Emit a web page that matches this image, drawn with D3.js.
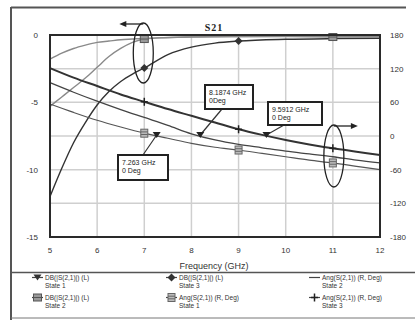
<!DOCTYPE html>
<html><head><meta charset="utf-8">
<script src="https://cdn.jsdelivr.net/npm/d3@7"></script>
<style>
body{margin:0;background:#fff;}
svg{display:block;font-family:"Liberation Sans",Arial,sans-serif;}
</style></head>
<body><svg id="c" width="415" height="320"></svg>
<script>
// ---- data ----
const xTicks = [5,6,7,8,9,10,11,12];
const yLeftTicks = [0,-5,-10,-15];
const yRightTicks = [180,120,60,0,-60,-120,-180];

const dbFreq = [5,5.25,5.5,5.75,6,6.25,6.5,6.75,7,7.5,8,8.5,9,10,11,12];
const dbState1 = [-1.8,-1.35,-1.0,-0.75,-0.55,-0.45,-0.35,-0.3,-0.25,-0.2,-0.15,-0.13,-0.12,-0.1,-0.1,-0.1];
const dbState2 = [-5.3,-4.6,-3.9,-3.2,-2.4,-1.6,-1.0,-0.55,-0.3,-0.18,-0.14,-0.12,-0.12,-0.12,-0.15,-0.15];
const dbState3 = [-12.0,-9.9,-8.0,-6.5,-5.2,-4.2,-3.45,-2.9,-2.45,-1.45,-0.9,-0.6,-0.45,-0.32,-0.27,-0.25];

const angFreq = [5,5.5,6,6.5,7,7.5,8,8.5,9,9.5,10,10.5,11,11.5,12];
const angState1 = [57,42,28,16,5,-4,-13,-20,-25,-31,-37,-43,-48,-54,-60];
const angState2 = [95,78,62,47,33,19,4,-7,-15,-21,-27,-32,-37,-43,-48];
const angState3 = [121,104,89,74,61,48,36,24,12,2,-7,-15,-22,-28,-34];

const markerFreqDB2 = [7,11];
const markerFreqDB3 = [7,9];
const markerFreqAng1 = [7,9,11];
const markerFreqAng3 = [7,9,11];

const annotations = [
  {f:7.263, l1:"7.263 GHz", l2:"0 Deg"},
  {f:8.1874, l1:"8.1874 GHz", l2:"0Deg"},
  {f:9.5912, l1:"9.5912 GHz", l2:"0 Deg"}
];
const legendItems = [
  {t:"DB(|S(2,1)|) (L)", s:"State 1", m:"tri"},
  {t:"DB(|S(2,1)|) (L)", s:"State 3", m:"diamond"},
  {t:"Ang(S(2,1)) (R, Deg)", s:"State 2", m:"none"},
  {t:"DB(|S(2,1)|) (L)", s:"State 2", m:"sq"},
  {t:"Ang(S(2,1)) (R, Deg)", s:"State 1", m:"sqx"},
  {t:"Ang(S(2,1)) (R, Deg)", s:"State 3", m:"plus"}
];

// ---- layout ----
const svg = d3.select("#c");
const x = d3.scaleLinear().domain([5,12]).range([50,380]);
const yL = d3.scaleLinear().domain([-15,0]).range([237,35]);
const yR = d3.scaleLinear().domain([-180,180]).range([237,35]);

// outer frame
svg.append("line").attr("x1",11).attr("x2",406).attr("y1",7.5).attr("y2",7.5).attr("stroke","#555").attr("stroke-width",2);
svg.append("line").attr("x1",11).attr("x2",11).attr("y1",7).attr("y2",320).attr("stroke","#555").attr("stroke-width",2);
svg.append("line").attr("x1",11).attr("x2",415).attr("y1",272.5).attr("y2",272.5).attr("stroke","#555").attr("stroke-width",1.5);
svg.append("line").attr("x1",11).attr("x2",415).attr("y1",318).attr("y2",318).attr("stroke","#777").attr("stroke-width",1);

// grid
const grid = svg.append("g").attr("stroke","#cfcfcf").attr("stroke-width",1.5);
xTicks.slice(1,-1).forEach(v=>grid.append("line").attr("x1",x(v)).attr("x2",x(v)).attr("y1",35).attr("y2",237));
yRightTicks.slice(1,-1).forEach(v=>grid.append("line").attr("x1",50).attr("x2",380).attr("y1",yR(v)).attr("y2",yR(v)));

// axes labels
const tickFont = 8;
svg.append("g").selectAll("text").data(xTicks).join("text")
  .attr("x",d=>x(d)).attr("y",253).attr("text-anchor","middle").attr("font-size",tickFont).attr("fill","#333").text(d=>d);
svg.append("g").selectAll("text").data(yLeftTicks).join("text")
  .attr("x",38).attr("y",d=>yL(d)+3).attr("text-anchor","end").attr("font-size",tickFont).attr("fill","#333").text(d=>d);
svg.append("g").selectAll("text").data(yRightTicks).join("text")
  .attr("x",390).attr("y",d=>yR(d)+3).attr("text-anchor","start").attr("font-size",tickFont).attr("fill","#333").text(d=>d);
svg.append("text").attr("x",214).attr("y",269).attr("text-anchor","middle").attr("font-size",9).attr("fill","#333").text("Frequency (GHz)");
svg.append("text").attr("x",214).attr("y",31).attr("text-anchor","middle").attr("font-size",10).attr("font-weight","bold")
  .attr("font-family","Liberation Serif, Times New Roman, serif").attr("letter-spacing",1).attr("fill","#222").text("S21");

// curves
const lineL = (fr,vals)=>d3.line().curve(d3.curveMonotoneX).x((d,i)=>x(fr[i])).y(d=>yL(d))(vals);
const lineR = (fr,vals)=>d3.line().curve(d3.curveMonotoneX).x((d,i)=>x(fr[i])).y(d=>yR(d))(vals);
const plot = svg.append("g");
plot.append("path").attr("d",lineL(dbFreq,dbState1)).attr("fill","none").attr("stroke","#8a8a8a").attr("stroke-width",1.4);
plot.append("path").attr("d",lineL(dbFreq,dbState2)).attr("fill","none").attr("stroke","#8a8a8a").attr("stroke-width",1.4);
plot.append("path").attr("d",lineL(dbFreq,dbState3)).attr("fill","none").attr("stroke","#333").attr("stroke-width",1.4);
plot.append("path").attr("d",lineR(angFreq,angState1)).attr("fill","none").attr("stroke","#555").attr("stroke-width",1.2);
plot.append("path").attr("d",lineR(angFreq,angState2)).attr("fill","none").attr("stroke","#444").attr("stroke-width",1.3);
plot.append("path").attr("d",lineR(angFreq,angState3)).attr("fill","none").attr("stroke","#333").attr("stroke-width",2);

// interpolation helper for marker placement on curves (sampling existing data)
const at = (fr,vals,f)=>{ const i=fr.indexOf(f); return vals[i]; };

function marker(g,type,cx,cy){
  if(type==="sq"){
    g.append("rect").attr("x",cx-4).attr("y",cy-3.5).attr("width",8).attr("height",7).attr("fill","#999").attr("stroke","#555").attr("stroke-width",1);
    g.append("line").attr("x1",cx-4).attr("x2",cx+4).attr("y1",cy).attr("y2",cy).attr("stroke","#555");
  } else if(type==="sqx"){
    g.append("rect").attr("x",cx-3.5).attr("y",cy-4).attr("width",7).attr("height",8).attr("fill","#bbb").attr("stroke","#666").attr("stroke-width",1);
    g.append("line").attr("x1",cx-3.5).attr("x2",cx+3.5).attr("y1",cy-1.3).attr("y2",cy-1.3).attr("stroke","#666");
    g.append("line").attr("x1",cx-3.5).attr("x2",cx+3.5).attr("y1",cy+1.3).attr("y2",cy+1.3).attr("stroke","#666");
  } else if(type==="diamond"){
    g.append("path").attr("d",`M${cx},${cy-4}L${cx+4},${cy}L${cx},${cy+4}L${cx-4},${cy}Z`).attr("fill","#333");
  } else if(type==="plus"){
    g.append("line").attr("x1",cx-3.5).attr("x2",cx+3.5).attr("y1",cy).attr("y2",cy).attr("stroke","#222").attr("stroke-width",1.5);
    g.append("line").attr("x1",cx).attr("x2",cx).attr("y1",cy-4).attr("y2",cy+4).attr("stroke","#222").attr("stroke-width",1.5);
  } else if(type==="tri"){
    g.append("path").attr("d",`M${cx-4},${cy-3}L${cx+4},${cy-3}L${cx},${cy+3}Z`).attr("fill","#333");
  }
}
const mk = svg.append("g");
markerFreqDB2.forEach(f=>marker(mk,"sq",x(f),yL(at(dbFreq,dbState2,f))));
markerFreqDB3.forEach(f=>marker(mk,"diamond",x(f),yL(at(dbFreq,dbState3,f))));
markerFreqAng1.forEach(f=>marker(mk,"sqx",x(f),yR(at(angFreq,angState1,f))));
markerFreqAng3.forEach(f=>marker(mk,"plus",x(f),yR(at(angFreq,angState3,f))));

// plot frame
svg.append("rect").attr("x",50).attr("y",35).attr("width",330).attr("height",202).attr("fill","none").attr("stroke","#2a2a2a").attr("stroke-width",2);

// annotations (zero-crossing markers)
const boxes = [
  {bx:118,by:155,w:50,h:25,lx:143,ly:155},
  {bx:205,by:85,w:48,h:24,lx:222,ly:109},
  {bx:268,by:102,w:54,h:23,lx:284,ly:125}
];
annotations.forEach((a,i)=>{
  const cx=x(a.f), cy=yR(0)-1, b=boxes[i];
  svg.append("line").attr("x1",cx).attr("y1",cy).attr("x2",b.lx).attr("y2",b.ly).attr("stroke","#333").attr("stroke-width",1.2);
  svg.append("path").attr("d",`M${cx-4},${cy-3}L${cx+4},${cy-3}L${cx},${cy+3}Z`).attr("fill","#222");
  svg.append("rect").attr("x",b.bx).attr("y",b.by).attr("width",b.w).attr("height",b.h).attr("fill","#fff").attr("stroke","#222").attr("stroke-width",2);
  svg.append("text").attr("x",b.bx+4).attr("y",b.by+9.5).attr("font-size",7).attr("fill","#222").text(a.l1);
  svg.append("text").attr("x",b.bx+4).attr("y",b.by+18).attr("font-size",7).attr("fill","#222").text(a.l2);
});

// ellipses with arrows
function ell(cx,cy,rx,ry,dir){
  svg.append("ellipse").attr("cx",cx).attr("cy",cy).attr("rx",rx).attr("ry",ry).attr("fill","none").attr("stroke","#222").attr("stroke-width",1.3);
  const y0=cy-ry+1, x1=cx+dir*24;
  svg.append("line").attr("x1",cx).attr("y1",y0).attr("x2",x1-dir*4).attr("y2",y0).attr("stroke","#222").attr("stroke-width",1.3);
  svg.append("path").attr("d",`M${x1},${y0}L${x1-dir*7},${y0-3}L${x1-dir*7},${y0+3}Z`).attr("fill","#222");
}
ell(x(7)-1,53,10,30,-1);
ell(x(11)+1,156,10,31,1);

// legend
const cols=[32,166,309], rows=[280,300];
legendItems.forEach((it,i)=>{
  const c=cols[i%3], r=rows[Math.floor(i/3)];
  const g=svg.append("g");
  g.append("line").attr("x1",c).attr("x2",c+11).attr("y1",r-2.5).attr("y2",r-2.5).attr("stroke","#444").attr("stroke-width",1.2);
  if(it.m!=="none") marker(g,it.m,c+5.5,r-2.5);
  g.append("text").attr("x",c+13).attr("y",r).attr("font-size",6.5).attr("fill","#333").text(it.t);
  g.append("text").attr("x",c+13).attr("y",r+8).attr("font-size",6.5).attr("fill","#333").text(it.s);
});
</script></body></html>
